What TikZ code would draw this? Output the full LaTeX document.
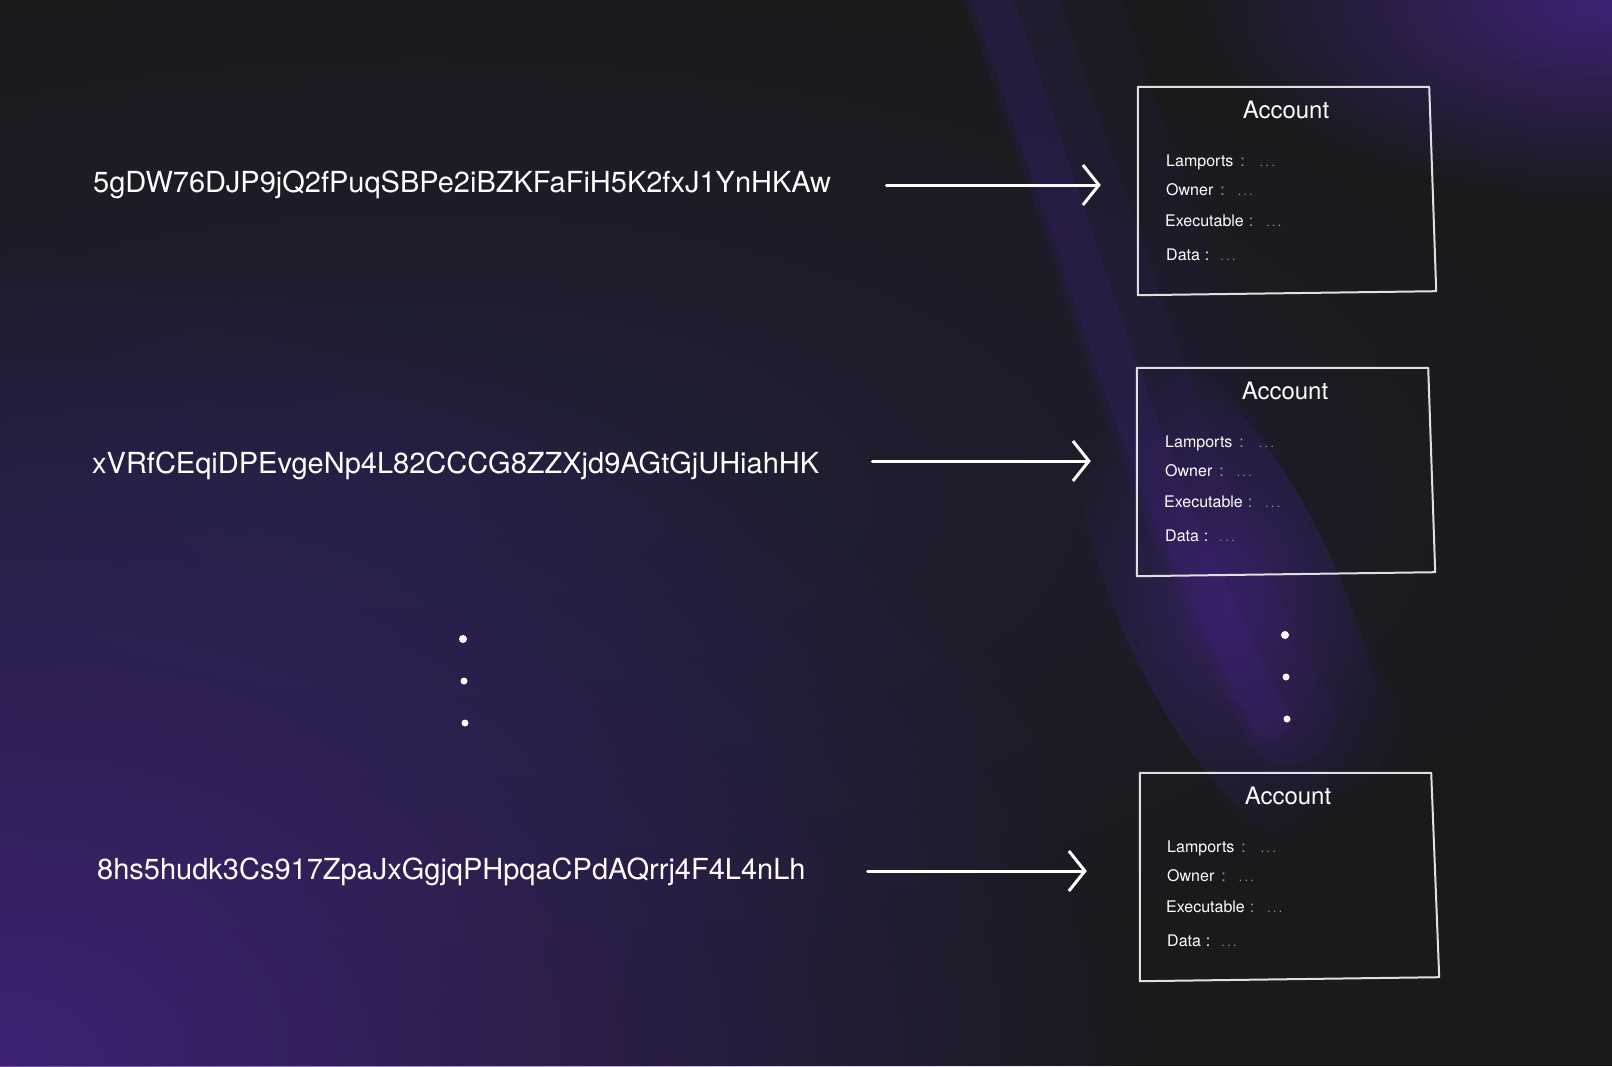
\documentclass[tikz,border=0pt]{standalone}
\usepackage{fontspec}
\setmainfont{TeX Gyre Heros}
\usetikzlibrary{arrows.meta,fadings,positioning}
\definecolor{bgdark}{RGB}{26,26,29}
\definecolor{glowpurple}{RGB}{72,36,140}
\definecolor{glowblue}{RGB}{40,40,92}
\definecolor{dimtext}{RGB}{160,160,165}
\tikzfading[name=softglow, inner color=transparent!0, outer color=transparent!100]
\newcommand\fldcolon{\textcolor{dimtext}{:}}
\newcommand\fldval{\textcolor{dimtext}{\fontsize{12}{12}\selectfont .\hspace{2.5pt}.\hspace{2.5pt}.}}
\tikzset{
  hash/.style={anchor=west, text=white, inner sep=0pt, font=\fontsize{29}{32}\selectfont},
  accbox/.style={minimum width=296pt, minimum height=206pt, inner sep=0pt},
  acctitle/.style={text=white, inner sep=0pt, font=\fontsize{24}{26}\selectfont},
  field/.style={anchor=west, text=white, inner sep=0pt, font=\fontsize{16}{18}\selectfont},
  boxline/.style={draw=white!88!black, line width=2pt, line join=round},
  ptr/.style={draw=white, line width=3pt, line cap=round,
    -{Straight Barb[length=16pt,width=40pt,line width=3pt]}},
  streak/.style={draw=glowpurple, line cap=round},
}
\begin{document}
\begin{tikzpicture}[x=1pt, y=-1pt]
  \useasboundingbox (0,0) rectangle (1612,1066);
  % background and glows
  \fill[bgdark] (0,0) rectangle (1612,1066);
  \begin{scope}
    \clip (0,0) rectangle (1612,1066);
    \fill[glowblue, fill opacity=0.45, path fading=softglow] (420,500) ellipse (1200 and 520);
    \fill[glowpurple, fill opacity=0.8, path fading=softglow] (0,1066) ellipse (1150 and 820);
    \fill[glowpurple, fill opacity=0.8, path fading=softglow] (1612,0) ellipse (420 and 200);
    % purple streak, sharp on the left, soft to the right
    \draw[streak, line width=150pt, opacity=0.06, xshift=50pt]
      (985,-20) .. controls (1060,190) and (1130,420) .. (1180,530) .. controls (1230,640) .. (1270,720);
    \draw[streak, line width=90pt, opacity=0.10, xshift=20pt]
      (985,-20) .. controls (1060,190) and (1130,420) .. (1180,530) .. controls (1230,640) .. (1270,720);
    \draw[streak, line width=40pt, opacity=0.18]
      (985,-20) .. controls (1060,190) and (1130,420) .. (1180,530) .. controls (1230,640) .. (1270,720);
    \fill[glowpurple, fill opacity=0.55, path fading=softglow, rotate around={25:(1230,600)}]
      (1230,600) ellipse (110 and 280);
  \end{scope}

  % addresses
  \node[hash] (h1) at (93,185) {5gDW76DJP9jQ2fPuqSBPe2iBZKFaFiH5K2fxJ1YnHKAw};
  \node[hash] (h2) at (92,466) {xVRfCEqiDPEvgeNp4L82CCCG8ZZXjd9AGtGjUHiahHK};
  \node[hash] (h3) at (97,872) {8hs5hudk3Cs917ZpaJxGgjqPHpqaCPdAQrrj4F4L4nLh};

  % account 1
  \node[accbox] (acc1) at (1286,190) {};
  \draw[boxline] (acc1.north west) -- ([xshift=-5pt]acc1.north east)
    -- ([xshift=2pt,yshift=2pt]acc1.south east) -- ([yshift=-2pt]acc1.south west) -- cycle;
  \node[acctitle, below=14pt of acc1.north] (t1) {Account};
  \node[field] (l1) at (1166,162) {Lamports\hspace{7pt}\fldcolon\hspace{15pt}\fldval};
  \node[field] (o1) at (1166,190) {Owner\hspace{7pt}\fldcolon\hspace{13pt}\fldval};
  \node[field] (e1) at (1165,221) {Executable\hspace{5pt}\fldcolon\hspace{13pt}\fldval};
  \node[field] (d1) at (1166,255) {Data\hspace{5pt}:\hspace{11pt}\fldval};

  % account 2
  \node[accbox] (acc2) at (1285,471) {};
  \draw[boxline] (acc2.north west) -- ([xshift=-5pt]acc2.north east)
    -- ([xshift=2pt,yshift=2pt]acc2.south east) -- ([yshift=-2pt]acc2.south west) -- cycle;
  \node[acctitle, below=14pt of acc2.north] (t2) {Account};
  \node[field] (l2) at (1165,443) {Lamports\hspace{7pt}\fldcolon\hspace{15pt}\fldval};
  \node[field] (o2) at (1165,471) {Owner\hspace{7pt}\fldcolon\hspace{13pt}\fldval};
  \node[field] (e2) at (1164,502) {Executable\hspace{5pt}\fldcolon\hspace{13pt}\fldval};
  \node[field] (d2) at (1165,536) {Data\hspace{5pt}:\hspace{11pt}\fldval};

  % account 3
  \node[accbox] (acc3) at (1288,876) {};
  \draw[boxline] (acc3.north west) -- ([xshift=-5pt]acc3.north east)
    -- ([xshift=3pt,yshift=2pt]acc3.south east) -- ([yshift=-2pt]acc3.south west) -- cycle;
  \node[acctitle, below=14pt of acc3.north] (t3) {Account};
  \node[field] (l3) at (1167,848) {Lamports\hspace{7pt}\fldcolon\hspace{15pt}\fldval};
  \node[field] (o3) at (1167,876) {Owner\hspace{7pt}\fldcolon\hspace{13pt}\fldval};
  \node[field] (e3) at (1166,907) {Executable\hspace{5pt}\fldcolon\hspace{13pt}\fldval};
  \node[field] (d3) at (1167,941) {Data\hspace{5pt}:\hspace{11pt}\fldval};

  % pointers
  \draw[ptr, shorten <=55pt, shorten >=37pt] (h1.east) -- (h1.east -| acc1.west);
  \draw[ptr, shorten <=53pt, shorten >=46pt] ([yshift=5pt]h2.east) -- ([yshift=5pt]h2.east -| acc2.west);
  \draw[ptr, shorten <=62pt, shorten >=53pt] ([yshift=1pt]h3.east) -- ([yshift=1pt]h3.east -| acc3.west);

  % ellipsis dots
  \fill[white] (463,639) circle (4pt) (464,681) circle (3.5pt) (465,723) circle (3.5pt);
  \fill[white] (1285,635) circle (4pt) (1286,677) circle (3.5pt) (1287,719) circle (3.5pt);
\end{tikzpicture}
\end{document}
